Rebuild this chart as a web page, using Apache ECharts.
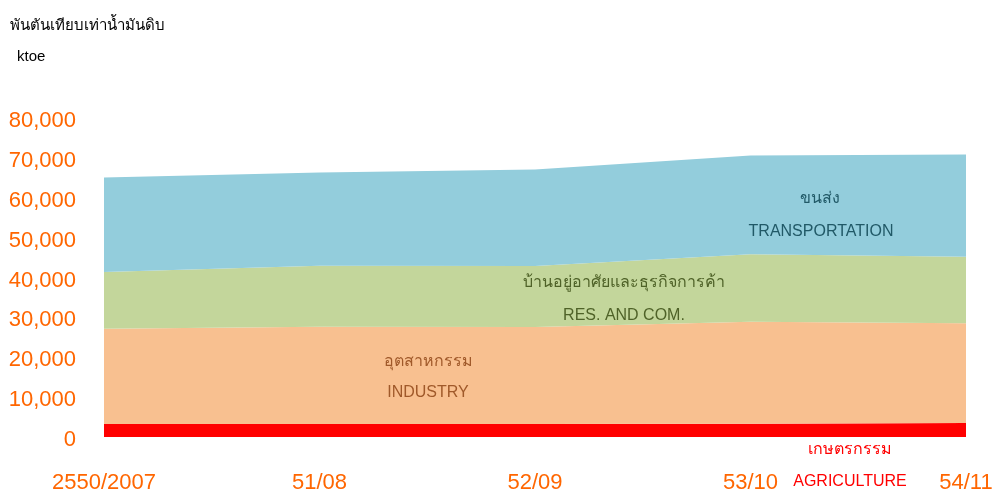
<!DOCTYPE html>
<html>
<head>
<meta charset="utf-8">
<script src="https://cdn.jsdelivr.net/npm/echarts@6/dist/echarts.min.js"></script>
<style>
html,body{margin:0;padding:0;background:#fff;}
#c{width:998px;height:493px;}
</style>
</head>
<body>
<div id="c"></div>
<script>
var categories = ['2550/2007', '51/08', '52/09', '53/10', '54/11'];
var agriculture = [3250, 3250, 3250, 3350, 3500];
var industry = [23890, 24390, 24350, 25550, 25000];
var resCom = [14210, 15290, 15260, 16900, 16690];
var transport = [23740, 23410, 24230, 24800, 25660];
var yTicks = [0, 10000, 20000, 30000, 40000, 50000, 60000, 70000, 80000];

var chart = echarts.init(document.getElementById('c'));
var FONT = '"Liberation Sans", "DejaVu Sans", "Noto Sans", sans-serif';
function areaSeries(name, data, color) {
  return {
    name: name, type: 'line', stack: 'total', data: data,
    showSymbol: false, symbol: 'none', smooth: false,
    lineStyle: { width: 0 },
    areaStyle: { color: color, opacity: 1 },
    emphasis: { disabled: true }
  };
}
function txt(x, y, s, color) {
  return { type: 'text', x: x, y: y, z: 100, zlevel: 1,
    style: { text: s, fill: color, font: '16px ' + FONT, align: 'center', verticalAlign: 'middle' } };
}
var option = {
  animation: false,
  backgroundColor: '#ffffff',
  grid: { left: 104, right: 32, top: 118, bottom: 56, containLabel: false, outerBoundsMode: 'none' },
  xAxis: {
    type: 'category', data: categories, boundaryGap: false,
    axisLine: { show: false }, axisTick: { show: false },
    axisLabel: { color: '#FF6600', fontSize: 22, fontFamily: FONT, margin: 35, interval: 0 }
  },
  yAxis: {
    type: 'value', min: yTicks[0], max: yTicks[yTicks.length - 1], interval: 10000,
    splitLine: { show: false }, axisLine: { show: false }, axisTick: { show: false },
    axisLabel: {
      color: '#FF6600', fontSize: 22, fontFamily: FONT, margin: 28,
      verticalAlign: 'top', lineHeight: 6,
      formatter: function (v) { return v.toLocaleString('en-US'); }
    }
  },
  series: [
    areaSeries('AGRICULTURE', agriculture, '#FF0000'),
    areaSeries('INDUSTRY', industry, '#F8C090'),
    areaSeries('RES. AND COM.', resCom, '#C3D69B'),
    areaSeries('TRANSPORTATION', transport, '#93CDDC')
  ],
  graphic: [
    { type: 'text', left: 10, top: 18, z: 100, style: { text: 'พันตันเทียบเท่าน้ำมันดิบ', fill: '#000', font: '15px ' + FONT } },
    { type: 'text', left: 17, top: 49, z: 100, style: { text: 'ktoe', fill: '#000', font: '15px ' + FONT } },
    txt(820, 199, 'ขนส่ง', '#215967'),
    txt(821, 232, 'TRANSPORTATION', '#215967'),
    txt(624, 283, 'บ้านอยู่อาศัยและธุรกิจการค้า', '#4F6228'),
    txt(624, 316, 'RES. AND COM.', '#4F6228'),
    txt(428, 362, 'อุตสาหกรรม', '#A0592A'),
    txt(428, 393, 'INDUSTRY', '#A0592A'),
    txt(850, 450, 'เกษตรกรรม', '#FF0000'),
    txt(850, 482, 'AGRICULTURE', '#FF0000')
  ]
};
chart.setOption(option);
</script>
</body>
</html>
